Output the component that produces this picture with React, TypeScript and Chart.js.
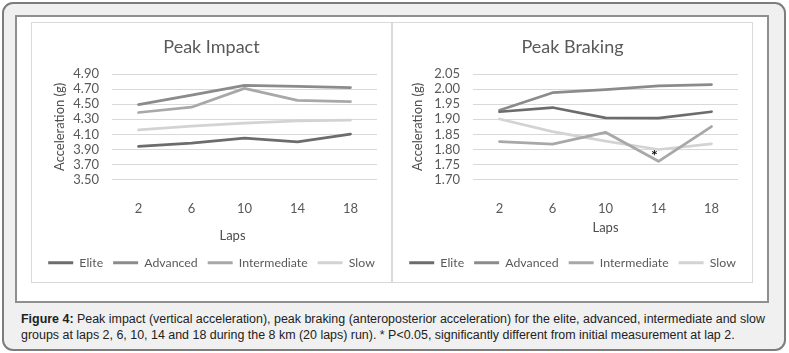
import React, { useEffect, useRef } from "react";
import { Chart, registerables } from "chart.js";

Chart.register(...registerables);

// ---------- data ----------
const laps = ["2", "6", "10", "14", "18"];
const groups = ["Elite", "Advanced", "Intermediate", "Slow"];
const groupColors = ["#6c6c6c", "#8b8b8b", "#a8a8a8", "#d3d3d3"];

const impactElite = [3.94, 3.985, 4.05, 4.0, 4.105];
const impactAdvanced = [4.495, 4.62, 4.75, 4.735, 4.72];
const impactIntermediate = [4.39, 4.46, 4.71, 4.55, 4.535];
const impactSlow = [4.16, 4.21, 4.25, 4.28, 4.29];
const impactTicks = [3.5, 3.7, 3.9, 4.1, 4.3, 4.5, 4.7, 4.9];

const brakingElite = [1.925, 1.939, 1.905, 1.904, 1.925];
const brakingAdvanced = [1.93, 1.988, 1.998, 2.011, 2.015];
const brakingIntermediate = [1.826, 1.818, 1.857, 1.761, 1.876];
const brakingSlow = [1.901, 1.859, 1.828, 1.8, 1.819];
const brakingTicks = [1.7, 1.75, 1.8, 1.85, 1.9, 1.95, 2.0, 2.05];

const brakingMarks = [{ series: "Intermediate", lap: "14", text: "*" }];

const impactTitle = "Peak Impact";
const brakingTitle = "Peak Braking";
const yAxisTitle = "Acceleration (g)";
const xAxisTitle = "Laps";

const captionBold = "Figure 4:";
const captionLine1 =
  " Peak impact (vertical acceleration), peak braking (anteroposterior acceleration) for the elite, advanced, intermediate and slow";
const captionLine2 =
  "groups at laps 2, 6, 10, 14 and 18 during the 8 km (20 laps) run). * P<0.05, significantly different from initial measurement at lap 2.";

// ---------- styles ----------
const FONT = "Lato, 'Open Sans', sans-serif";
const TEXT = "#595959";
const AXIS_TEXT = "#4d4d4d";

type Mark = { series: string; lap: string; text: string };
type PanelProps = {
  left: number;
  title: string;
  series: number[][];
  ticks: number[];
  yTitlePad: number;
  xTitleShift: number;
  xTitleLift: number;
  marks: Mark[];
};

function Panel(p: PanelProps) {
  const ref = useRef<HTMLCanvasElement>(null);
  useEffect(() => {
    const canvas = ref.current!;
    const extras = {
      id: "panelExtras",
      afterDraw(chart: any) {
        const ctx = chart.ctx;
        const area = chart.chartArea;
        const xs = chart.scales.x;
        ctx.save();
        ctx.fillStyle = AXIS_TEXT;
        ctx.font = `13px ${FONT}`;
        ctx.textAlign = "center";
        ctx.textBaseline = "middle";
        ctx.fillText(xAxisTitle, (area.left + area.right) / 2 + p.xTitleShift, xs.bottom - p.xTitleLift);
        for (const m of p.marks) {
          const di = chart.data.datasets.findIndex((d: any) => d.label === m.series);
          const li = laps.indexOf(m.lap);
          const el = chart.getDatasetMeta(di).data[li];
          ctx.font = `bold 16px ${FONT}`;
          ctx.fillStyle = "#111";
          ctx.fillText(m.text, el.x - 4, el.y - 5);
        }
        ctx.restore();
      },
    };
    const chart = new Chart(canvas, {
      type: "line",
      data: {
        labels: laps,
        datasets: groups.map((g, i) => ({
          label: g,
          data: p.series[i],
          borderColor: groupColors[i],
          backgroundColor: groupColors[i],
          borderWidth: 2.75,
          pointRadius: 0,
          pointHoverRadius: 0,
          tension: 0,
          fill: false,
          borderJoinStyle: "round",
          borderCapStyle: "round",
        })),
      },
      options: {
        responsive: false,
        animation: false,
        devicePixelRatio: 1,
        events: [],
        layout: { padding: { left: 0, right: 0, top: 0, bottom: 3 } },
        plugins: {
          title: {
            display: true,
            text: p.title,
            color: TEXT,
            font: { family: FONT, size: 18, weight: "normal" },
            padding: { top: 13.2, bottom: 16.2 },
          },
          legend: {
            position: "bottom",
            labels: {
              boxWidth: 25,
              boxHeight: 3,
              padding: 10,
              color: TEXT,
              font: { family: FONT, size: 12.3 },
              generateLabels: (c: any) =>
                (Chart.defaults.plugins.legend.labels as any)
                  .generateLabels(c)
                  .map((l: any) => ({ ...l, lineWidth: 0, fillStyle: l.strokeStyle })),
            },
          },
          tooltip: { enabled: false },
        },
        scales: {
          x: {
            offset: true,
            grid: { display: false },
            border: { display: false },
            ticks: { padding: 13.2, color: TEXT, font: { family: FONT, size: 13 }, autoSkip: false, maxRotation: 0 },
            afterFit: (s: any) => {
              s.height = 67;
            },
          },
          y: {
            min: p.ticks[0],
            max: p.ticks[p.ticks.length - 1],
            afterBuildTicks: (s: any) => {
              s.ticks = p.ticks.map((v) => ({ value: v }));
            },
            ticks: {
              padding: 13,
              autoSkip: false,
              color: TEXT,
              font: { family: FONT, size: 13 },
              callback: (v: any) => Number(v).toFixed(2),
            },
            grid: { color: "#d9d9d9", lineWidth: 1, drawTicks: false },
            border: { display: false },
            title: {
              display: true,
              text: yAxisTitle,
              color: AXIS_TEXT,
              font: { family: FONT, size: 13 },
              padding: { top: p.yTitlePad, bottom: 0 },
            },
            afterFit: (s: any) => {
              s.width = 80;
            },
          },
          y2: {
            position: "right",
            display: true,
            grid: { display: false },
            border: { display: false },
            ticks: { display: false },
            afterFit: (s: any) => {
              s.width = 14;
            },
          },
        },
      } as any,
      plugins: [extras],
    });
    return () => chart.destroy();
  }, []);
  return (
    <div
      style={{
        position: "absolute",
        left: p.left,
        top: 22,
        width: 361,
        height: 261,
        boxSizing: "border-box",
        border: "1px solid #d9d9d9",
        background: "#fff",
      }}
    >
      <canvas ref={ref} width={359} height={259} style={{ display: "block", width: 359, height: 259 }} />
    </div>
  );
}

export default function App() {
  return (
    <div style={{ position: "fixed", left: 0, top: 0, width: 789, height: 353, background: "#fff", overflow: "hidden" }}>
      <div
        style={{
          position: "absolute",
          left: 2,
          top: 2,
          width: 784,
          height: 349,
          boxSizing: "border-box",
          border: "2px solid #7d7d7d",
          borderRadius: 11,
          background: "#f0f0f0",
        }}
      />
      <div
        style={{
          position: "absolute",
          left: 15,
          top: 15,
          width: 754,
          height: 288,
          boxSizing: "border-box",
          border: "2px solid #8f8f8f",
          background: "#fff",
        }}
      />
      <Panel
        left={31}
        title={impactTitle}
        series={[impactElite, impactAdvanced, impactIntermediate, impactSlow]}
        ticks={impactTicks}
        yTitlePad={20}
        xTitleShift={-12}
        xTitleLift={11}
        marks={[]}
      />
      <Panel
        left={392}
        title={brakingTitle}
        series={[brakingElite, brakingAdvanced, brakingIntermediate, brakingSlow]}
        ticks={brakingTicks}
        yTitlePad={17.5}
        xTitleShift={0}
        xTitleLift={19}
        marks={brakingMarks}
      />
      <div
        style={{
          position: "absolute",
          left: 21,
          top: 311,
          whiteSpace: "nowrap",
          fontFamily: "'Liberation Sans', Arial, sans-serif",
          fontSize: 12.45,
          lineHeight: "16px",
          color: "#222",
        }}
      >
        <b>{captionBold}</b>
        {captionLine1}
        <br />
        {captionLine2}
      </div>
    </div>
  );
}
